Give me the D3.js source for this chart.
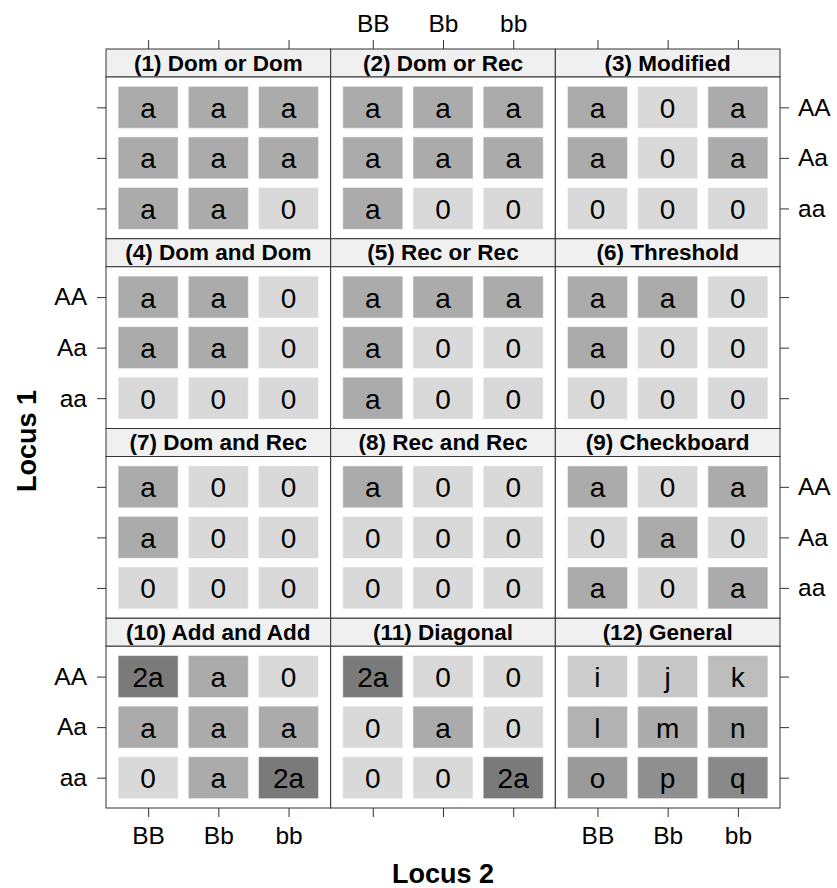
<!DOCTYPE html>
<html>
<head>
<meta charset="utf-8">
<script src="https://cdn.jsdelivr.net/npm/d3@7"></script>
<style>
  body { margin: 0; background: #fff; }
  text { font-family: "Liberation Sans", Arial, Helvetica, sans-serif; }
</style>
</head>
<body>
<div id="chart"></div>
<script>
// DATA
const locus1 = ['AA', 'Aa', 'aa'];
const locus2 = ['BB', 'Bb', 'bb'];
const models = [
  '(1) Dom or Dom', '(2) Dom or Rec', '(3) Modified',
  '(4) Dom and Dom', '(5) Rec or Rec', '(6) Threshold',
  '(7) Dom and Rec', '(8) Rec and Rec', '(9) Checkboard',
  '(10) Add and Add', '(11) Diagonal', '(12) General',
];
// rows = locus1 (AA, Aa, aa), cols = locus2 (BB, Bb, bb)
const cells = [
  [['a', 'a', 'a'], ['a', 'a', 'a'], ['a', 'a', '0']],
  [['a', 'a', 'a'], ['a', 'a', 'a'], ['a', '0', '0']],
  [['a', '0', 'a'], ['a', '0', 'a'], ['0', '0', '0']],
  [['a', 'a', '0'], ['a', 'a', '0'], ['0', '0', '0']],
  [['a', 'a', 'a'], ['a', '0', '0'], ['a', '0', '0']],
  [['a', 'a', '0'], ['a', '0', '0'], ['0', '0', '0']],
  [['a', '0', '0'], ['a', '0', '0'], ['0', '0', '0']],
  [['a', '0', '0'], ['0', '0', '0'], ['0', '0', '0']],
  [['a', '0', 'a'], ['0', 'a', '0'], ['a', '0', 'a']],
  [['2a', 'a', '0'], ['a', 'a', 'a'], ['0', 'a', '2a']],
  [['2a', '0', '0'], ['0', 'a', '0'], ['0', '0', '2a']],
  [['i', 'j', 'k'], ['l', 'm', 'n'], ['o', 'p', 'q']],
];
const levels = ['0', 'a', '2a', 'i', 'j', 'k', 'l', 'm', 'n', 'o', 'p', 'q'];
const grays = ['#d9d9d9', '#ababab', '#7a7a7a', '#cdcdcd', '#c7c7c7', '#bdbdbd',
  '#b2b2b2', '#acacac', '#a3a3a3', '#9a9a9a', '#8f8f8f', '#898989'];

// LAYOUT
const W = 837, H = 888;
const m = { top: 49, right: 57, bottom: 80, left: 106 };
const nc = 3, nr = 4;
const pw = (W - m.left - m.right) / nc;
const ph = (H - m.top - m.bottom) / nr;
const sh = 28; // strip height
const bh = ph - sh;

const svg = d3.select('#chart').append('svg')
  .attr('width', W)
  .attr('height', H);

// SCALES
const x = d3.scalePoint().domain(locus2).range([0, pw]).padding(0.6);
const y = d3.scalePoint().domain(locus1).range([0, bh]).padding(0.6);
const fill = d3.scaleOrdinal().domain(levels).range(grays);
const tw = x.step() * 0.855;
const th = y.step() * 0.83;

const g = svg.append('g').attr('transform', `translate(${m.left},${m.top})`);

// PANELS
models.forEach((name, k) => {
  const c = k % nc, r = Math.floor(k / nc);
  const p = g.append('g').attr('transform', `translate(${c * pw},${r * ph})`);

  // strip
  p.append('rect')
    .attr('width', pw).attr('height', sh)
    .attr('fill', '#f0f0f0').attr('stroke', '#333').attr('stroke-width', 1);
  p.append('text')
    .attr('x', pw / 2).attr('y', sh / 2)
    .attr('text-anchor', 'middle').attr('dominant-baseline', 'central')
    .attr('font-size', 22.5).attr('font-weight', 'bold')
    .text(name);

  const b = p.append('g').attr('transform', `translate(0,${sh})`);
  b.append('rect')
    .attr('width', pw).attr('height', bh)
    .attr('fill', '#fff').attr('stroke', '#333').attr('stroke-width', 1);

  // tiles
  const flat = [];
  cells[k].forEach((row, i) => row.forEach((v, j) => flat.push({ r: locus1[i], c: locus2[j], v })));

  const t = b.selectAll('.tile').data(flat).enter().append('g').attr('class', 'tile');
  t.append('rect')
    .attr('x', (d) => x(d.c) - tw / 2)
    .attr('y', (d) => y(d.r) - th / 2)
    .attr('width', tw).attr('height', th)
    .attr('fill', (d) => fill(d.v))
    .attr('stroke', '#fff').attr('stroke-opacity', 0.5).attr('stroke-width', 1);
  t.append('text')
    .attr('x', (d) => x(d.c))
    .attr('y', (d) => y(d.r) + 1)
    .attr('text-anchor', 'middle').attr('dominant-baseline', 'central')
    .attr('font-size', 28).attr('fill', '#000')
    .text((d) => d.v);

  // AXES
  const styleAx = (a) => {
    a.select('.domain').remove();
    a.selectAll('.tick line').attr('stroke', '#333');
    a.selectAll('.tick text').attr('font-size', 24.5).attr('fill', '#000')
      .attr('font-family', '"Liberation Sans", Arial, sans-serif');
  };
  if (r === 0) {
    p.append('g')
      .call(d3.axisTop(x).tickSize(9).tickPadding(8).tickFormat(c === 1 ? null : () => ''))
      .call(styleAx);
  }
  if (r === nr - 1) {
    b.append('g').attr('transform', `translate(0,${bh})`)
      .call(d3.axisBottom(x).tickSize(9).tickPadding(10).tickFormat(c !== 1 ? null : () => ''))
      .call(styleAx);
  }
  if (c === 0) {
    b.append('g')
      .call(d3.axisLeft(y).tickSize(9).tickPadding(10).tickFormat(r % 2 === 1 ? null : () => ''))
      .call(styleAx);
  }
  if (c === nc - 1) {
    b.append('g').attr('transform', `translate(${pw},0)`)
      .call(d3.axisRight(y).tickSize(9).tickPadding(9).tickFormat(r % 2 === 0 ? null : () => ''))
      .call(styleAx);
  }
});

// AXIS TITLES
svg.append('text')
  .attr('x', m.left + (W - m.left - m.right) / 2).attr('y', 883)
  .attr('text-anchor', 'middle')
  .attr('font-size', 27).attr('font-weight', 'bold')
  .text('Locus 2');

svg.append('text')
  .attr('transform', 'translate(36,441) rotate(-90)')
  .attr('text-anchor', 'middle')
  .attr('font-size', 27).attr('font-weight', 'bold')
  .text('Locus 1');
</script>
</body>
</html>
